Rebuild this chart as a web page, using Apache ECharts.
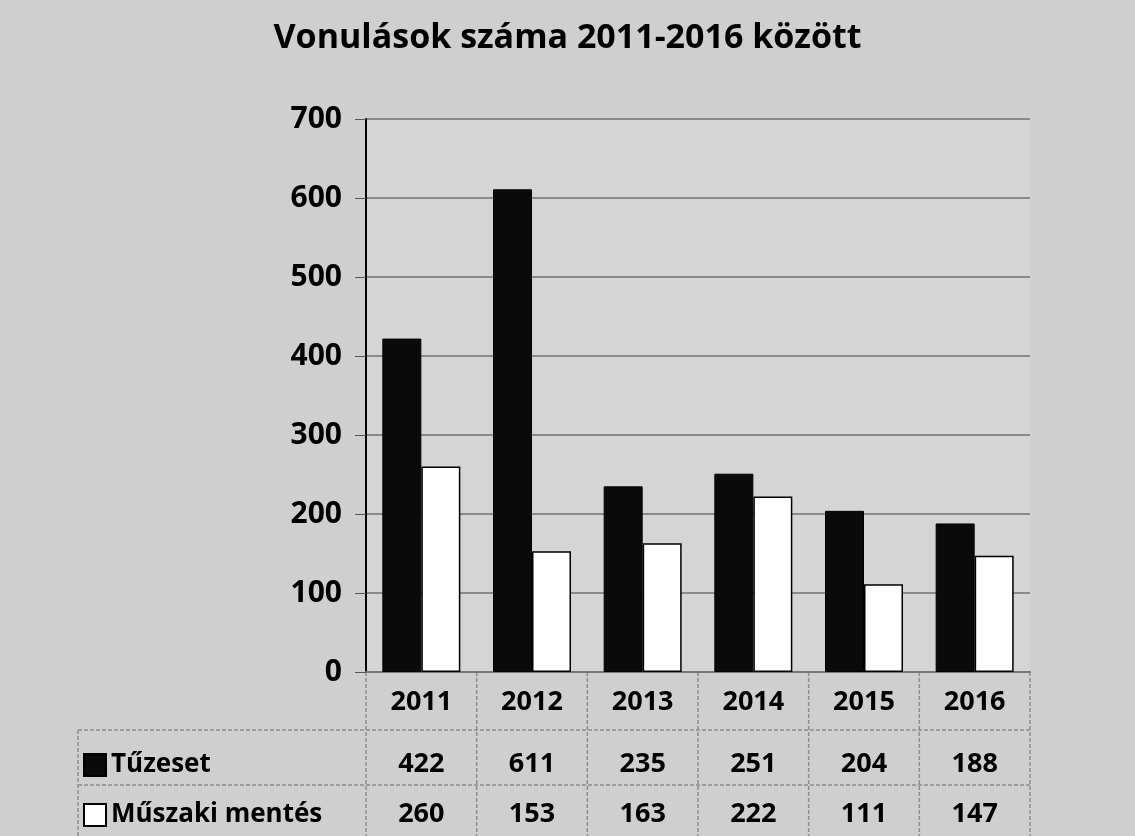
<!DOCTYPE html>
<html>
<head>
<meta charset="utf-8">
<script src="https://cdn.jsdelivr.net/npm/echarts@6/dist/echarts.min.js"></script>
<style>
  html, body { margin: 0; padding: 0; background: #cfcfcf; }
  #chart { width: 1135px; height: 836px; }
</style>
</head>
<body>
<div id="chart"></div>
<script>
// chart data
const years = ['2011', '2012', '2013', '2014', '2015', '2016'];
const tuzeset = [422, 611, 235, 251, 204, 188];
const muszaki = [260, 153, 163, 222, 111, 147];
const seriesNames = ['Tűzeset', 'Műszaki mentés'];

const chart = echarts.init(document.getElementById('chart'));
const font = '"Open Sans", "DejaVu Sans", sans-serif';

// table axes sit under the plot, one row per series
const tableAxis = (values, offset) => ({
    type: 'category',
    data: values.map(String),
    position: 'bottom',
    offset: offset,
    axisLine: { show: false },
    axisTick: { show: false },
    axisLabel: {
        color: '#000',
        fontFamily: font,
        fontWeight: 'bold',
        fontSize: 27,
        margin: 16
    }
});

const option = {
    backgroundColor: '#cfcfcf',
    animation: false,
    title: {
        text: 'Vonulások száma 2011-2016 között',
        left: 'center',
        top: 16,
        textStyle: {
            fontFamily: font,
            fontWeight: 'bold',
            fontSize: 34,
            color: '#000'
        }
    },
    legend: {
        orient: 'vertical',
        left: 83,
        top: 747,
        padding: 0,
        itemWidth: 22,
        itemHeight: 22,
        itemGap: 14,
        icon: 'rect',
        data: seriesNames,
        textStyle: {
            fontFamily: font,
            fontWeight: 'bold',
            fontSize: 26,
            lineHeight: 30,
            padding: [6, 0, 0, 0],
            color: '#000'
        }
    },
    grid: {
        left: 366,
        right: 105,
        top: 119,
        bottom: 164,
        show: true,
        backgroundColor: '#d5d5d5',
        borderWidth: 0
    },
    xAxis: [
        {
            type: 'category',
            data: years,
            axisLine: { lineStyle: { color: '#777', width: 2 } },
            axisTick: { show: false },
            axisLabel: {
                color: '#000',
                fontFamily: font,
                fontWeight: 'bold',
                fontSize: 27,
                margin: 17
            }
        },
        tableAxis(tuzeset, 63),
        tableAxis(muszaki, 113)
    ],
    yAxis: {
        type: 'value',
        min: 0,
        max: 700,
        interval: 100,
        axisLine: { show: true, lineStyle: { color: '#000', width: 2 } },
        axisTick: { show: true, length: 11, lineStyle: { color: '#555' } },
        splitLine: { lineStyle: { color: '#8a8a8a', width: 2 } },
        axisLabel: {
            color: '#000',
            fontFamily: font,
            fontWeight: 'bold',
            fontSize: 30,
            margin: 24
        }
    },
    series: [
        {
            name: seriesNames[0],
            type: 'bar',
            data: tuzeset,
            barWidth: 39,
            barGap: '0%',
            itemStyle: { color: '#0a0a0a', borderColor: '#000', borderWidth: 1 }
        },
        {
            name: seriesNames[1],
            type: 'bar',
            data: muszaki,
            barWidth: 39,
            itemStyle: { color: '#ffffff', borderColor: '#000', borderWidth: 1.5 }
        }
    ]
};

chart.setOption(option);

// data table ruling, placed from the grid's own pixel scale
const gridRect = chart.getModel().getComponent('grid').coordinateSystem.getRect();
const colW = gridRect.width / years.length;
const bottomY = gridRect.y + gridRect.height;
const tableLeft = 78;
const rowTop = bottomY + 58;
const rowMid = bottomY + 113;
const lineStyle = { stroke: '#8d8d8d', lineWidth: 1.5, lineDash: [4, 2] };
const lines = [];
for (let k = 0; k <= years.length; k++) {
    const x = gridRect.x + k * colW;
    lines.push({ type: 'line', shape: { x1: x, y1: bottomY, x2: x, y2: 836 }, style: lineStyle, silent: true });
}
lines.push({ type: 'line', shape: { x1: tableLeft, y1: rowTop, x2: tableLeft, y2: 836 }, style: lineStyle, silent: true });
lines.push({ type: 'line', shape: { x1: tableLeft, y1: rowTop, x2: gridRect.x + gridRect.width, y2: rowTop }, style: lineStyle, silent: true });
lines.push({ type: 'line', shape: { x1: tableLeft, y1: rowMid, x2: gridRect.x + gridRect.width, y2: rowMid }, style: lineStyle, silent: true });
chart.setOption({ graphic: lines });
</script>
</body>
</html>
